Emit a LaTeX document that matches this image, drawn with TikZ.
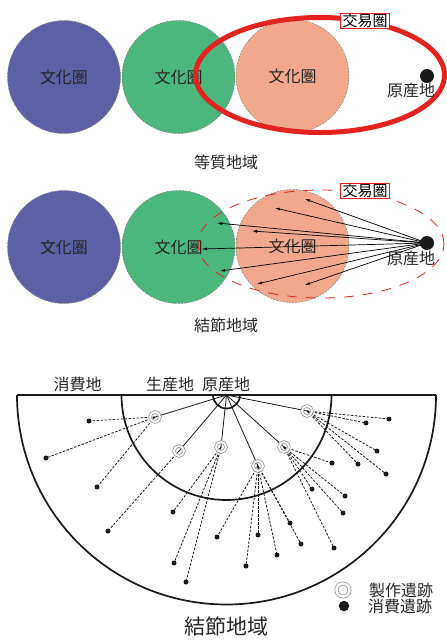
\documentclass[tikz,border=0pt]{standalone}
\usepackage{fontspec}
\setmainfont{Noto Sans CJK JP}
\usetikzlibrary{arrows.meta}
\definecolor{cblue}{HTML}{5E60A6}
\definecolor{cgreen}{HTML}{4CB77D}
\definecolor{csalmon}{HTML}{F2A98B}
\definecolor{cred}{HTML}{E42320}
\tikzset{
  culture/.style={circle, minimum size=113pt, inner sep=0pt, draw=gray, dashed, line width=0.5pt, dash pattern=on 2pt off 1.2pt, font=\fontsize{16}{16}\selectfont, text=black!85},
  tradebox/.style={draw=cred, line width=0.6pt, fill=white, inner xsep=2pt, inner ysep=0.5pt, font=\fontsize{15}{15}\selectfont},
  srcdot/.style={circle, fill=black!90, minimum size=14pt, inner sep=0pt},
  lbl/.style={font=\fontsize{16}{16}\selectfont, text=black!85, inner sep=0pt},
  bigtitle/.style={font=\fontsize{21}{21}\selectfont, text=black!85, inner sep=0pt},
  flow/.style={line width=0.7pt, -{Latex[length=5pt,width=3pt]}},
  boldline/.style={line width=1.7pt, black!90},
  spoke/.style={line width=0.8pt, black!90},
  dline/.style={line width=0.8pt, dash pattern=on 2.5pt off 1.5pt, black!90},
  site/.style={circle, draw=gray!80, line width=0.8pt, double=white, double distance=1.8pt, minimum size=10pt, inner sep=0pt},
  cdot/.style={circle, fill=black!90, minimum size=5pt, inner sep=0pt},
}
\begin{document}
\begin{tikzpicture}[x=1pt,y=-1pt]
\useasboundingbox (0,0) rectangle (447,641);

% ---------- 等質地域 ----------
\node[culture, fill=cblue] (a1) at (64,77) {文化圏};
\node[culture, fill=cgreen] (a2) at (178.5,77) {文化圏};
\node[culture, fill=csalmon] (a3) at (292.5,76) {文化圏};
\coordinate (e1) at (320,75);
\draw[cred, line width=5pt] (e1) ellipse [x radius=124.5pt, y radius=57.5pt];
\node[tradebox] (t1) at (365,21) {交易圏};
\node[srcdot] (o1) at (427,76) {};
\node[lbl] (ol1) at (411,90) {原産地};
\node[lbl] (ti1) at (226,162) {等質地域};

% ---------- 結節地域 (上) ----------
\node[culture, fill=cblue] (b1) at (64,247) {文化圏};
\node[culture, fill=cgreen] (b2) at (178.5,247) {文化圏};
\node[culture, fill=csalmon] (b3) at (292.5,246) {文化圏};
\coordinate (e2) at (321,244);
\draw[cred, line width=0.8pt, dash pattern=on 10pt off 9pt] (e2) ellipse [x radius=123pt, y radius=54pt];
\node[tradebox] (t2) at (365,191) {交易圏};
\coordinate (o2c) at (427,243);
\foreach \i/\x/\y in {1/305/199, 2/275/208, 3/217/223, 4/252/231, 5/202/249, 6/220/271, 7/257/284, 8/305/285}{
  \coordinate (ar\i) at (\x,\y);
  \draw[flow] (o2c) -- (ar\i);
}
\node[srcdot] (o2) at (o2c) {};
\node[lbl] (ol2) at (411,258) {原産地};
\node[lbl] (ti2) at (226,325) {結節地域};

% ---------- 結節地域 (下) ----------
\coordinate (c) at (226.5,395);
\coordinate (cl) at (17,395);
\coordinate (cr) at (436,395);
\coordinate (il) at (121.5,395);
\coordinate (sl) at (213,395);

% solid spokes to production sites
\foreach \i/\x/\y in {1/155/417, 2/179/451, 3/221/447, 4/258/466, 5/284/447, 6/307/411}{
  \coordinate (s\i) at (\x,\y);
  \draw[spoke] (c) -- (s\i);
}

% dashed lines to consumption sites
\foreach \s/\x/\y [count=\k] in {
  1/89/421, 1/46/458, 1/97/487,
  2/108/531,
  3/173/512, 3/174/563, 3/186/582,
  4/217/537, 4/246/566, 4/258/535, 4/277/555, 4/290/523, 4/301/544,
  5/332/463, 5/312/489, 5/345/496, 5/343/513, 5/334/548,
  6/389/419, 6/366/423, 6/377/451, 6/358/464, 6/386/474}{
  \node[cdot] (d\k) at (\x,\y) {};
  \draw[dline] (s\s) -- (d\k.center);
}

% frame
\draw[boldline] (cl) -- (cr);
\draw[boldline] (cl) arc[start angle=180, end angle=360, radius=209.5pt];
\draw[boldline] (il) arc[start angle=180, end angle=360, radius=105pt];
\draw[boldline] (sl) arc[start angle=180, end angle=360, radius=13.5pt];

% production site rings
\foreach \i in {1,...,6}{
  \node[site] (r\i) at (s\i) {};
}

\node[lbl] (l1) at (77.5,384) {消費地};
\node[lbl] (l2) at (170,384) {生産地};
\node[lbl] (l3) at (226,384) {原産地};
\node[bigtitle] (ti3) at (226,626) {結節地域};

% legend
\node[site, minimum size=13pt, double distance=2.4pt] (lg1) at (343,590) {};
\node[circle, fill=black!90, minimum size=10.5pt, inner sep=0pt] (lg2) at (344,606) {};
\node[lbl] (lt1) at (401,590) {製作遺跡};
\node[lbl] (lt2) at (400,606) {消費遺跡};
\end{tikzpicture}
\end{document}
